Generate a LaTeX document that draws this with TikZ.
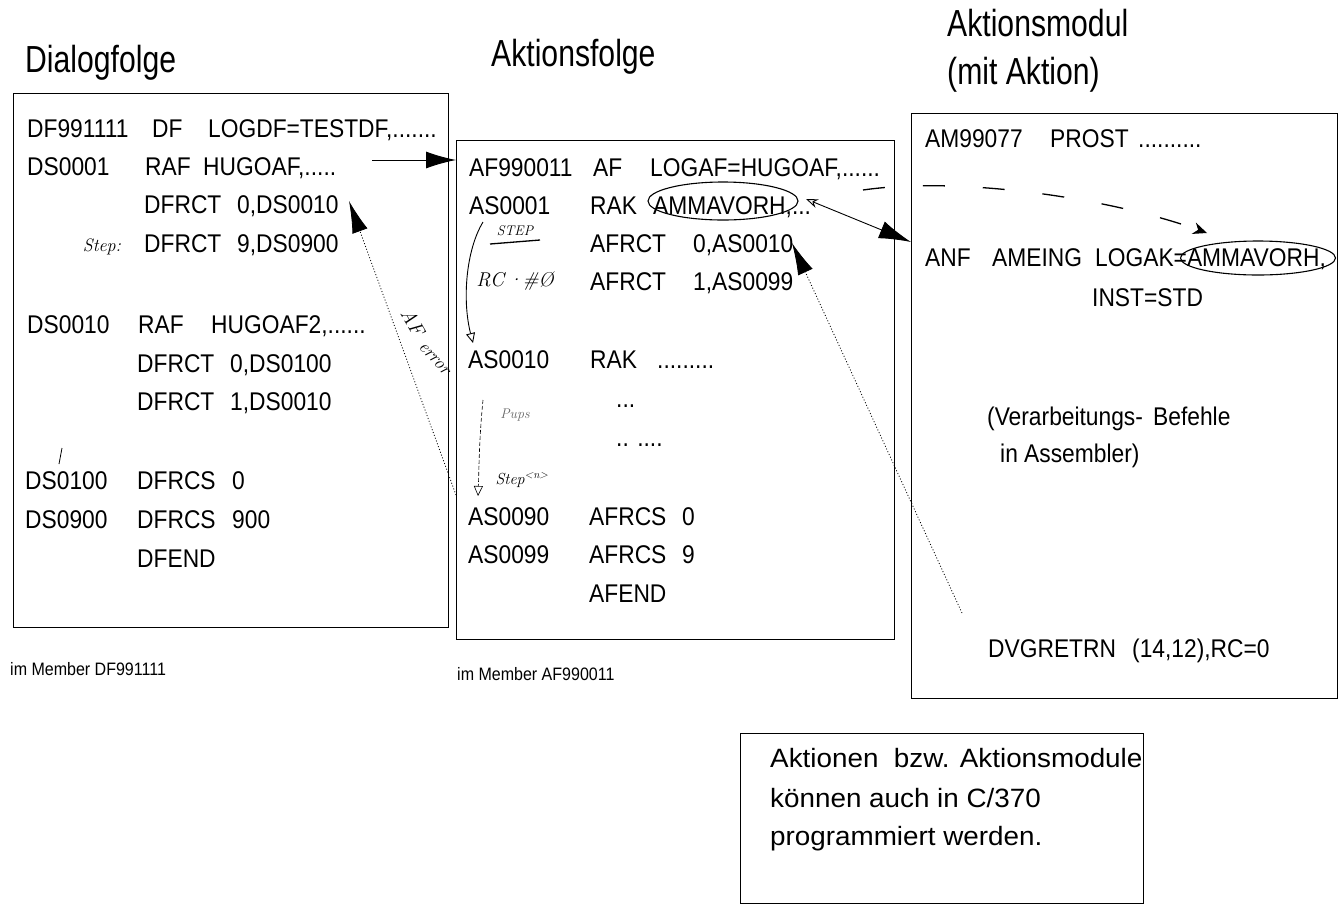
\documentclass[tikz,border=0pt]{standalone}
\usepackage{fontspec}
\newfontfamily\bodyf{Liberation Sans}[FakeStretch=0.89]
\newfontfamily\titlef{Liberation Sans}[FakeStretch=0.8]
\newfontfamily\notef{Liberation Sans}[FakeStretch=1.05]
\usetikzlibrary{arrows.meta,shapes.geometric}
\tikzset{
 frame/.style={draw=black, line width=1.1pt, inner sep=0pt, anchor=north west},
 code/.style={anchor=base west, inner sep=0pt, font=\bodyf\fontsize{25.6}{30}\selectfont},
 ttl/.style={anchor=base west, inner sep=0pt, font=\titlef\fontsize{37.7}{44}\selectfont},
 small/.style={anchor=base west, inner sep=0pt, font=\bodyf\fontsize{18}{22}\selectfont},
 note/.style={anchor=base west, inner sep=0pt, font=\notef\fontsize{26.5}{30}\selectfont},
 hand/.style={inner sep=0pt, font=\itshape\fontsize{18}{20}\selectfont},
 bigarrow/.style={-{Latex[length=30pt,width=17pt]}, line width=0.9pt},
 dotarrow/.style={-{Latex[length=32pt,width=16pt]}, line width=0.8pt, dash pattern=on 1pt off 2pt},
 handline/.style={line width=0.9pt},
 circ/.style={draw, ellipse, line width=1.1pt, inner sep=0pt},
}
\begin{document}
\begin{tikzpicture}[x=1pt,y=-1pt]
\useasboundingbox (0,0) rectangle (1344,906);

% titles
\node[ttl] (t1) at (25,72) {Dialogfolge};
\node[ttl] (t2) at (491,66) {Aktionsfolge};
\node[ttl] (t3) at (947,36) {Aktionsmodul};
\node[ttl] (t4) at (947,84) {(mit Aktion)};

% frames
\node[frame, minimum width=435pt, minimum height=534pt] (b1) at (13,93) {};
\node[frame, minimum width=438pt, minimum height=499pt] (b2) at (456,140) {};
\node[frame, minimum width=426pt, minimum height=585pt] (b3) at (911,113) {};
\node[frame, minimum width=403pt, minimum height=170pt] (b4) at (740,733) {};

% box 1
\node[code] (l1a) at (27,137) {DF991111};
\node[code] (l1b) at (152,137) {DF};
\node[code] (l1c) at (208,137) {LOGDF=TESTDF,.......};
\node[code] (l2a) at (27,175) {DS0001};
\node[code] (l2b) at (145,175) {RAF};
\node[code] (l2c) at (203,175) {HUGOAF,.....};
\node[code] (l3a) at (144,213) {DFRCT};
\node[code] (l3b) at (237,213) {0,DS0010};
\node[code] (l4a) at (144,252) {DFRCT};
\node[code] (l4b) at (237,252) {9,DS0900};
\node[code] (l5a) at (27,333) {DS0010};
\node[code] (l5b) at (138,333) {RAF};
\node[code] (l5c) at (211,333) {HUGOAF2,......};
\node[code] (l6a) at (137,372) {DFRCT};
\node[code] (l6b) at (230,372) {0,DS0100};
\node[code] (l7a) at (137,410) {DFRCT};
\node[code] (l7b) at (230,410) {1,DS0010};
\node[code] (l8a) at (25,489) {DS0100};
\node[code] (l8b) at (137,489) {DFRCS};
\node[code] (l8c) at (232,489) {0};
\node[code] (l9a) at (25,528) {DS0900};
\node[code] (l9b) at (137,528) {DFRCS};
\node[code] (l9c) at (232,528) {900};
\node[code] (l10) at (137,567) {DFEND};
\node[small] (m1) at (10,675) {im Member DF991111};

% box 2
\node[code] (k1a) at (469,176) {AF990011};
\node[code] (k1b) at (593,176) {AF};
\node[code] (k1c) at (650,176) {LOGAF=HUGOAF,......};
\node[code] (k2a) at (469,214) {AS0001};
\node[code] (k2b) at (590,214) {RAK};
\node[code] (k2c) at (653,214) {AMMAVORH,...};
\node[code] (k3a) at (590,252) {AFRCT};
\node[code] (k3b) at (693,252) {0,AS0010};
\node[code] (k4a) at (590,290) {AFRCT};
\node[code] (k4b) at (693,290) {1,AS0099};
\node[code] (k5a) at (468,368) {AS0010};
\node[code] (k5b) at (590,368) {RAK};
\node[code] (k5c) at (657,368) {.........};
\node[code] (k6) at (616,407) {...};
\node[code] (k7) at (616,446) {.. ....};
\node[code] (k8a) at (468,525) {AS0090};
\node[code] (k8b) at (589,525) {AFRCS};
\node[code] (k8c) at (682,525) {0};
\node[code] (k9a) at (468,563) {AS0099};
\node[code] (k9b) at (589,563) {AFRCS};
\node[code] (k9c) at (682,563) {9};
\node[code] (k10) at (589,602) {AFEND};
\node[small] (m2) at (457,680) {im Member AF990011};

% box 3
\node[code] (j1a) at (925,147) {AM99077};
\node[code] (j1b) at (1050,147) {PROST};
\node[code] (j1c) at (1138,147) {..........};
\node[code] (j2a) at (925,266) {ANF};
\node[code] (j2b) at (992,266) {AMEING};
\node[code] (j2c) at (1095,266) {LOGAK=AMMAVORH,};
\node[code] (j3) at (1092,306) {INST=STD};
\node[code] (j4a) at (987,425) {(Verarbeitungs-};
\node[code] (j4b) at (1153,425) {Befehle};
\node[code] (j5) at (1000,462) {in Assembler)};
\node[code] (j6a) at (988,657) {DVGRETRN};
\node[code] (j6b) at (1132,657) {(14,12),RC=0};

% box 4
\node[note] (n1) at (770,767) {Aktionen\ \ bzw. Aktionsmodule};
\node[note] (n2) at (770,807) {können auch in C/370};
\node[note] (n3) at (770,845) {programmiert werden.};

% ellipses (hand drawn)
\node[circ, minimum width=150pt, minimum height=38pt] (e1) at (723,201) {};
\node[circ, minimum width=155pt, minimum height=34pt] (e2) at (1258,258) {};

% arrows
\coordinate (a1s) at (372,160);
\draw[bigarrow] (a1s) -- (a1s -| b2.west);

\coordinate (a2s) at (456,495);
\coordinate (a2e) at (349,201);
\draw[dotarrow] (a2s) -- (a2e);

\coordinate (a3s) at (962,613);
\coordinate (a3e) at (792,243);
\draw[dotarrow] (a3s) -- (a3e);

\coordinate (a4s) at (806,199);
\coordinate (a4e) at (911,242);
\draw[{Stealth[length=12pt,width=9pt,open]}-{Latex[length=32pt,width=18pt]}, line width=0.9pt] (a4s) -- (a4e);

\coordinate (d1) at (863,190);
\coordinate (d2) at (1207,233);
\draw[line width=1.3pt, dash pattern=on 22pt off 38pt, -{Stealth[length=14pt,width=12pt]}] (d1) .. controls (960,176) and (1110,198) .. (d2);

% hand-written annotations
\coordinate (h1s) at (483,222);
\coordinate (h1e) at (473,343);
\draw[handline, -{Triangle[open,length=10pt,width=9pt]}] (h1s) .. controls (466,250) and (462,300) .. (h1e);
\coordinate (h2s) at (483,400);
\coordinate (h2e) at (478,496);
\draw[line width=0.6pt, dash pattern=on 4pt off 2pt, -{Triangle[open,length=10pt,width=9pt]}] (h2s) .. controls (479,440) and (479,470) .. (h2e);

\node[hand, font=\itshape\fontsize{14}{16}\selectfont] (hs) at (515,231) {STEP};
\coordinate (u1) at (490,244);
\coordinate (u2) at (540,240);
\draw[line width=1.3pt] (u1) -- (u2);
\node[hand, font=\itshape\fontsize{20}{22}\selectfont] (hrc) at (515,281) {RC\,·\#\O};
\node[hand, text=black!60, font=\itshape\fontsize{14}{16}\selectfont] (hp) at (515,415) {Pups};
\node[hand, font=\itshape\fontsize{16}{18}\selectfont] (hn) at (522,480) {Step\textsuperscript{<n>}};
\node[hand] (hstep) at (102,247) {Step:};
\node[hand, rotate=-60, font=\itshape\fontsize{20}{22}\selectfont] (herr1) at (413,322) {AF};
\node[hand, rotate=-48, font=\itshape\fontsize{18}{20}\selectfont] (herr2) at (434,359) {error};
\coordinate (s1) at (62,448);
\coordinate (s2) at (59,464);
\draw[line width=0.8pt] (s1) -- (s2);
\end{tikzpicture}
\end{document}
